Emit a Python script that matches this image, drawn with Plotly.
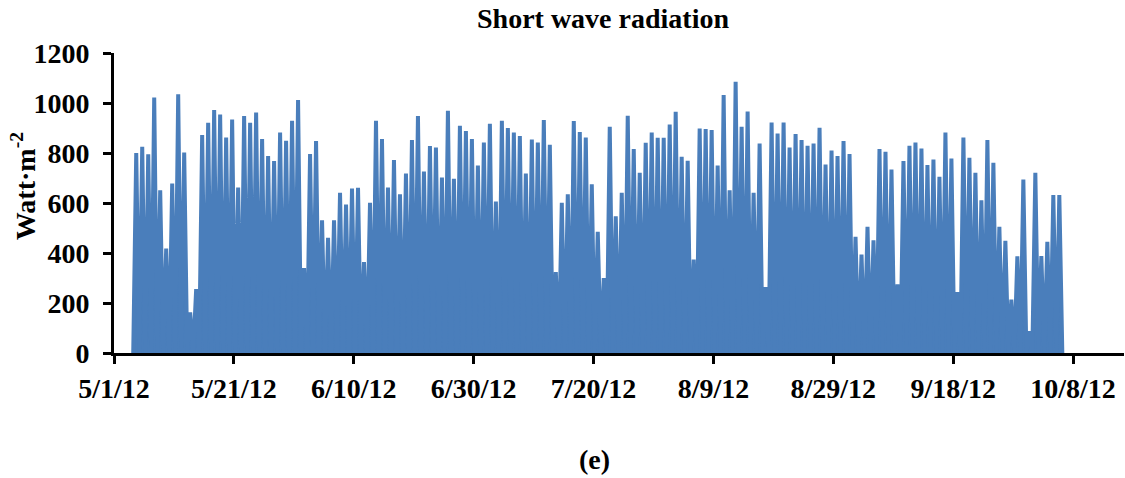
import pandas as pd
import plotly.graph_objects as go

# ---- data -------------------------------------------------------------
start_day = "2012-05-04"          # first day with data
peak_hour = 17                    # hour of the daily maximum on the time axis
night_hour = 5                    # hour of the overnight zero

daily_peak = [
    800, 825, 795, 1022, 651, 418, 678, 1035, 802, 162, 256, 872, 921, 972, 954, 862, 934, 662, 948, 921,
    962, 856, 788, 768, 882, 849, 929, 1012, 340, 796, 848, 531, 461, 531, 641, 594, 658, 661, 364, 601,
    929, 856, 662, 772, 635, 718, 852, 948, 726, 828, 822, 702, 969, 697, 909, 888, 856, 750, 842, 917,
    606, 929, 900, 882, 868, 718, 854, 842, 932, 833, 324, 601, 635, 928, 884, 862, 675, 485, 300, 905,
    547, 641, 949, 816, 721, 841, 882, 861, 861, 914, 965, 785, 769, 374, 898, 896, 892, 750, 1032, 651,
    1085, 905, 966, 641, 838, 264, 922, 878, 922, 822, 876, 852, 829, 838, 901, 754, 810, 788, 848, 796,
    465, 394, 505, 451, 816, 805, 734, 275, 768, 829, 842, 818, 752, 774, 705, 882, 778, 244, 862, 781,
    721, 611, 852, 761, 505, 449, 214, 387, 694, 87, 721, 388, 445, 632, 632,
]

tick_dates = ["2012-05-01", "2012-05-21", "2012-06-10", "2012-06-30", "2012-07-20",
              "2012-08-09", "2012-08-29", "2012-09-18", "2012-10-08"]
tick_text = ["5/1/12", "5/21/12", "6/10/12", "6/30/12", "7/20/12",
             "8/9/12", "8/29/12", "9/18/12", "10/8/12"]

# ---- build time series (night zero, daily peak) ------------------------
days = pd.date_range(start_day, periods=len(daily_peak), freq="D")
t, v = [], []
for d, p in zip(days, daily_peak):
    t.append(d + pd.Timedelta(hours=night_hour)); v.append(0)
    t.append(d + pd.Timedelta(hours=peak_hour)); v.append(p)
t.append(days[-1] + pd.Timedelta(hours=peak_hour + 12)); v.append(0)

BLUE = "#4A7EBB"
FONT = "Liberation Serif"
FS = 28

fig = go.Figure()
fig.add_trace(go.Scatter(
    x=t, y=v, mode="lines",
    line=dict(color=BLUE, width=4),
    fill="tozeroy", fillcolor=BLUE,
    showlegend=False, hoverinfo="skip",
))

fig.update_layout(
    width=1125, height=478,
    margin=dict(l=114, r=1, t=53, b=125),
    paper_bgcolor="white", plot_bgcolor="white",
    font=dict(family=FONT, size=FS, color="black", weight="bold"),
    title=dict(text="Short wave radiation", x=0.536, xref="container", xanchor="center",
               y=1 - 18 / 478, yref="container", yanchor="middle",
               font=dict(family=FONT, size=FS, color="black", weight="bold")),
    showlegend=False,
)

fig.update_xaxes(
    type="date",
    range=["2012-05-01", "2012-10-16 12:00"],
    tickmode="array", tickvals=tick_dates, ticktext=tick_text,
    ticks="outside", ticklen=8, tickwidth=3, tickcolor="black",
    showline=True, linecolor="black", linewidth=3,
    showgrid=False, zeroline=False,
    tickfont=dict(family=FONT, size=FS, color="black", weight="bold"),
    ticklabelstandoff=0,
)
fig.update_yaxes(
    range=[0, 1200], dtick=200, tick0=0,
    ticks="outside", ticklen=8, tickwidth=3, tickcolor="black",
    showline=True, linecolor="black", linewidth=3,
    showgrid=False, zeroline=False,
    tickfont=dict(family=FONT, size=FS, color="black", weight="bold"),
    ticklabelstandoff=8,
)

fig.add_annotation(
    text="Watt·m<sup>-2</sup>", textangle=-90,
    xref="paper", yref="paper", x=(23 - 114) / 1010, y=(352.7 - 186) / 299.7,
    xanchor="center", yanchor="middle", showarrow=False,
    font=dict(family=FONT, size=FS, color="black", weight="bold"),
)
fig.add_annotation(
    text="(e)",
    xref="paper", yref="paper", x=(594 - 114) / 1010, y=(352.7 - 459) / 299.7,
    xanchor="center", yanchor="middle", showarrow=False,
    font=dict(family=FONT, size=FS, color="black", weight="bold"),
)

fig.write_html("out.html")
